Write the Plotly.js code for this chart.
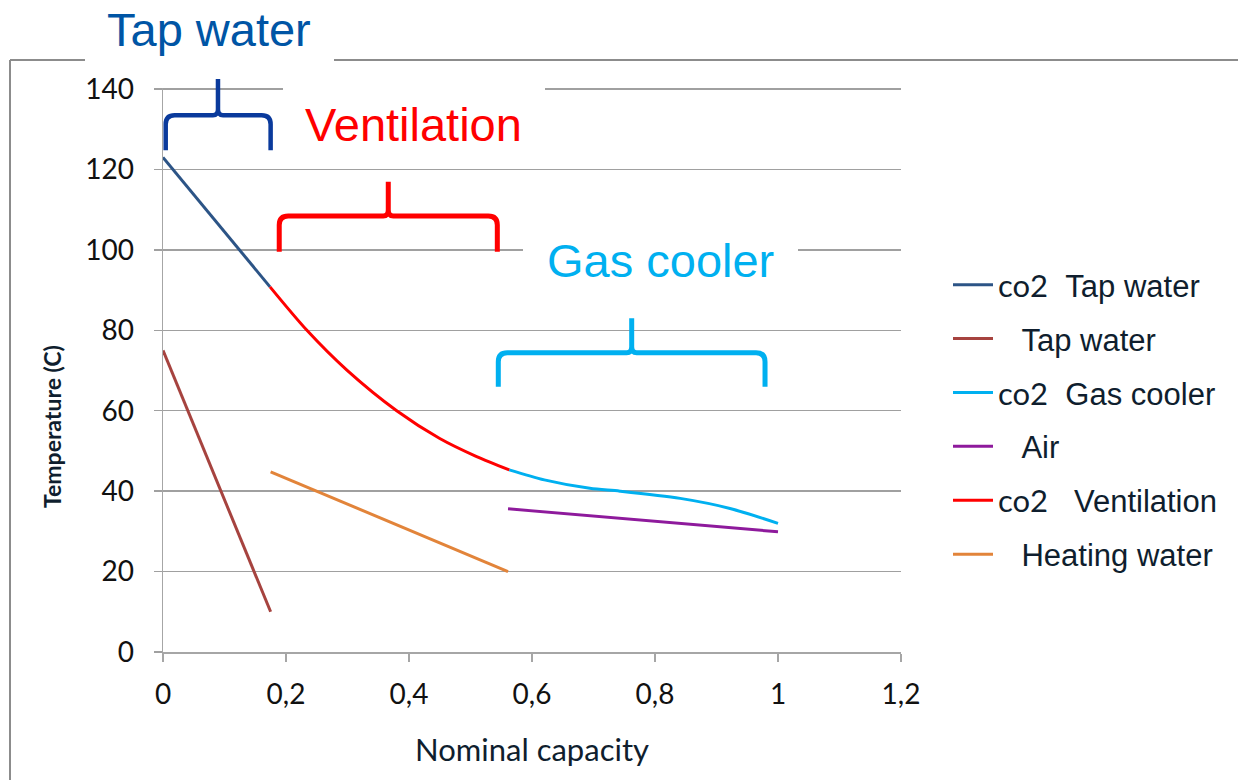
<!DOCTYPE html>
<html>
<head>
<meta charset="utf-8">
<script src="https://cdn.plot.ly/plotly-3.0.1.min.js"></script>
<style>html,body{margin:0;padding:0;background:#fff;}#chart{width:1238px;height:780px;}</style>
</head>
<body>
<div id="chart"></div>
<script>
// ---- data ----
const co2TapX = [0, 0.174];
const co2TapY = [123, 90.8];
const tapX = [0, 0.175];
const tapY = [75, 10];
const gasX = [0.563, 0.62, 0.694, 0.743, 0.841, 0.922, 1.0];
const gasY = [45.3, 42.8, 40.7, 40.0, 38.2, 35.7, 32.0];
const airX = [0.561, 1.0];
const airY = [35.6, 29.9];
const ventX = [0.174, 0.234, 0.299, 0.38, 0.45, 0.51, 0.563];
const ventY = [90.8, 80, 70.1, 60, 53.1, 48.6, 45.3];
const heatX = [0.175, 0.561];
const heatY = [44.8, 20];

const co2 = '<span style="font-family:Lato">co2</span>';
const seriesNames = [co2 + "\u00A0\u00A0Tap water", "\u00A0\u00A0\u2009Tap water", co2 + "\u00A0\u00A0Gas cooler", "\u00A0\u00A0\u2009Air", co2 + "\u00A0\u00A0\u00A0Ventilation", "\u00A0\u00A0\u2009Heating water"];
const seriesColors = ["#2C5486", "#A6433F", "#00B0F0", "#8E1A9C", "#FF0000", "#E2843A"];

// brace spans in data units: [xLeft, xTip, xRight, yBottom, yBar, yTop]
const braceTap = [0.0044, 0.0894, 0.175, 124.8, 133.5, 142.5];
const braceVent = [0.189, 0.3663, 0.5436, 99.55, 108.4, 116.96];
const braceGas = [0.5452, 0.7621, 0.9789, 65.98, 74.43, 82.99];

const xRange = [0, 1.2];
const yRange = [0, 140.25];

// ---- layout geometry ----
const W = 1238, H = 780;
const M = {l: 163, r: 337, t: 88, b: 128};
const PW = W - M.l - M.r, PH = H - M.t - M.b;
const px = v => (v - M.l) / PW;           // pixel x -> paper
const py = v => (H - M.b - v) / PH;       // pixel y -> paper
const dx = v => (v - xRange[0]) / (xRange[1] - xRange[0]); // data x -> paper
const dy = v => (v - yRange[0]) / (yRange[1] - yRange[0]); // data y -> paper

const xs = [co2TapX, tapX, gasX, airX, ventX, heatX];
const ys = [co2TapY, tapY, gasY, airY, ventY, heatY];
const traces = xs.map((x, i) => ({
  x: x, y: ys[i], type: 'scatter', mode: 'lines',
  name: seriesNames[i], legendgroup: 'g' + i,
  line: {color: seriesColors[i], width: 3, shape: x.length > 2 ? 'spline' : 'linear', smoothing: 0.8},
  hoverinfo: 'skip'
}));

function bracePath(b) {
  const [xl, xt, xr, yb, yh, ytop] = b;
  const rx = 9 / PW, ry = 9 / PH, sx = 5 / PW, sy = 6 / PH;
  const L = dx(xl), T = dx(xt), R = dx(xr), B = dy(yb), Y = dy(yh), TOP = dy(ytop);
  return `M${L},${B} L${L},${Y - ry} Q${L},${Y} ${L + rx},${Y} L${T - sx},${Y} Q${T},${Y} ${T},${Y + sy} L${T},${TOP} ` +
         `M${T},${Y + sy} Q${T},${Y} ${T + sx},${Y} L${R - rx},${Y} Q${R},${Y} ${R},${Y - ry} L${R},${B}`;
}

const frameColor = '#8C8C8C';
const shapes = [
  // slide frame
  {type: 'line', xref: 'paper', yref: 'paper', x0: px(10), x1: px(10), y0: py(60), y1: py(785), line: {color: frameColor, width: 2}},
  {type: 'line', xref: 'paper', yref: 'paper', x0: px(10), x1: px(85), y0: py(60), y1: py(60), line: {color: frameColor, width: 2}},
  {type: 'line', xref: 'paper', yref: 'paper', x0: px(334), x1: px(1240), y0: py(60), y1: py(60), line: {color: frameColor, width: 2}},
  // white gaps behind labels
  {type: 'rect', xref: 'paper', yref: 'paper', layer: 'above', x0: px(283), x1: px(545), y0: py(84), y1: py(95), fillcolor: '#fff', line: {width: 0}},
  {type: 'rect', xref: 'paper', yref: 'paper', layer: 'above', x0: px(523), x1: px(798), y0: py(245), y1: py(256), fillcolor: '#fff', line: {width: 0}},
  // braces
  {type: 'path', xref: 'paper', yref: 'paper', layer: 'above', path: bracePath(braceTap), line: {color: '#0A3A9C', width: 4.5}},
  {type: 'path', xref: 'paper', yref: 'paper', layer: 'above', path: bracePath(braceVent), line: {color: '#FF0000', width: 5}},
  {type: 'path', xref: 'paper', yref: 'paper', layer: 'above', path: bracePath(braceGas), line: {color: '#00B0F0', width: 5}}
];

const bigFont = 'Liberation Sans, Arial, sans-serif';
const annotations = [
  {text: 'Tap water', xref: 'paper', yref: 'paper', x: px(209), y: py(30), showarrow: false, xanchor: 'center', yanchor: 'middle', font: {family: bigFont, size: 47, color: '#0055A5'}},
  {text: 'Ventilation', xref: 'paper', yref: 'paper', x: px(413), y: py(125), showarrow: false, xanchor: 'center', yanchor: 'middle', font: {family: bigFont, size: 47, color: '#FF0000'}},
  {text: 'Gas cooler', xref: 'paper', yref: 'paper', x: px(660), y: py(260), showarrow: false, xanchor: 'center', yanchor: 'middle', font: {family: bigFont, size: 47, color: '#00B0F0'}},
  {text: '<b>Temperature (C)</b>', xref: 'paper', yref: 'paper', x: px(52), y: py(426), showarrow: false, textangle: -90, xanchor: 'center', yanchor: 'middle', font: {family: 'Lato, sans-serif', size: 23, color: '#0F1E2E'}}
];

const tickFont = {family: 'Lato, sans-serif', size: 28, color: '#111'};
const layout = {
  width: W, height: H, margin: M,
  paper_bgcolor: '#fff', plot_bgcolor: '#fff',
  separators: ', ',
  showlegend: true,
  legend: {x: px(948), y: py(258), xanchor: 'left', yanchor: 'top', bgcolor: 'rgba(0,0,0,0)',
           font: {family: 'Liberation Sans, Arial, sans-serif', size: 31, color: '#0F1E2E'}, tracegroupgap: 10.6, itemwidth: 40},
  xaxis: {range: xRange, tick0: 0, dtick: 0.2, showgrid: false, zeroline: false,
          showline: true, linecolor: '#A6A6A6', linewidth: 1.5,
          ticks: 'outside', ticklen: 8, tickcolor: '#A6A6A6', tickwidth: 1.2, tickfont: tickFont,
          ticklabelstandoff: 9,
          title: {text: 'Nominal capacity', font: {family: 'Lato, sans-serif', size: 31, color: '#0F1E2E'}, standoff: 30},
          fixedrange: true},
  yaxis: {range: yRange, tick0: 0, dtick: 20, showgrid: true, gridcolor: '#A0A0A0', gridwidth: 1.5, zeroline: false,
          showline: true, linecolor: '#A6A6A6', linewidth: 1.5,
          ticks: 'outside', ticklen: 8, tickcolor: '#A0A0A0', tickwidth: 1.5, tickfont: tickFont,
          ticklabelstandoff: 14, fixedrange: true},
  shapes: shapes,
  annotations: annotations
};

Plotly.newPlot('chart', traces, layout, {staticPlot: true, displayModeBar: false});
</script>
</body>
</html>
